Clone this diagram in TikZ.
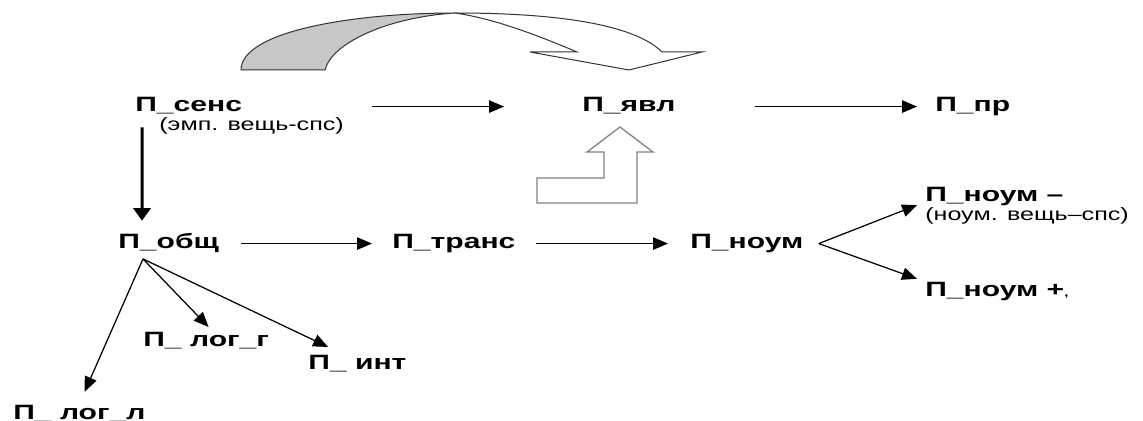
\documentclass[tikz,border=0pt]{standalone}
\usepackage{fontspec}
\setmainfont{Liberation Sans}
\newfontfamily\widefont[FakeStretch=1.45]{Liberation Sans}
\newfontfamily\notefont[FakeStretch=1.4]{Liberation Sans}
\usetikzlibrary{arrows.meta}
\tikzstyle{concept} = [inner sep=0pt, anchor=base west,
text height=8.5pt, text depth=2.9pt,
font=\widefont\bfseries\fontsize{11.8}{14}\selectfont]
\tikzstyle{remark} = [inner sep=0pt, anchor=base west,
font=\notefont\fontsize{10.2}{12}\selectfont]
\tikzstyle{arrow} = [line width=0.25mm, -{Triangle[length=3mm, width=2.5mm]}]
\tikzstyle{boldarrow} = [line width=0.6mm, -{Triangle[length=2.5mm, width=3.4mm]}]
\tikzstyle{blockarrow} = [line width=0.25mm, draw=black!50, fill=white]
\tikzstyle{turnarrow} = [line width=0.2mm, draw=black!80]

\begin{document}
\begin{tikzpicture}[x=0.2mm, y=-0.2mm]
\useasboundingbox (0,0) rectangle (1143,421);

\node (sens) [concept] at (135,111.5) {П\_сенс};
\node (sensnote) [remark] at (159,131) {(эмп. вещь-спс)};
\node (yavl) [concept] at (582,111.5) {П\_явл};
\node (pr) [concept] at (935,111.5) {П\_пр};

\node (obsh) [concept] at (118,248.5) {П\_общ};
\node (trans) [concept] at (392,248.5) {П\_транс};
\node (noum) [concept] at (690,248.5) {П\_ноум};
\node (nminus) [concept] at (925,202) {П\_ноум –};
\node (nminusnote) [remark] at (925,221) {(ноум. вещь–спс)};
\node (nplus) [concept] at (925,297) {П\_ноум +{\fontsize{6}{7}\selectfont,}};

\node (logg) [concept] at (143,347) {П\_ лог\_г};
\node (int) [concept] at (308,370) {П\_ инт};
\node (logl) [concept] at (13,419) {П\_ лог\_л};

\filldraw [turnarrow, fill=black!22] (241,70) .. controls (241,32) and (350,13) .. (455,13)
  .. controls (390,17) and (332,42) .. (325,70) -- cycle;
\filldraw [turnarrow, fill=white] (455,13) .. controls (560,13) and (635,25) .. (662,52)
  -- (702,52) -- (629,70) -- (530,52) -- (577,52) .. controls (530,32) and (490,18) .. (455,13) -- cycle;
\draw [blockarrow] (537,178) -- (604,178) -- (604,152) -- (587,152) -- (620,127)
  -- (653,152) -- (637,152) -- (637,203) -- (537,203) -- cycle;

\draw [arrow, shorten <=26mm, shorten >=15.6mm] (sens.east) -- (yavl.west);
\draw [arrow, shorten <=15.8mm, shorten >=3.6mm] (yavl.east) -- (pr.west);
\draw [boldarrow] ([xshift=1.4mm, yshift=-2.1mm]sens.south west) -- ([xshift=4.8mm, yshift=2.5mm]obsh.north west);

\draw [arrow, shorten <=4.4mm, shorten >=4mm] (obsh.east) -- (trans.west);
\draw [arrow, shorten <=4mm, shorten >=4.4mm] (trans.east) -- (noum.west);
\draw [arrow, shorten >=1.7mm] ([xshift=3mm]noum.east) -- (nminus.base west);
\draw [arrow, shorten >=1.7mm] ([xshift=3mm]noum.east) -- (nplus.north west);

\draw [arrow, shorten >=2.6mm] ([xshift=5mm, yshift=-1mm]obsh.south west) -- (logl.north);
\draw [arrow, shorten >=1.3mm] ([xshift=5mm, yshift=-1mm]obsh.south west) -- ([xshift=1.4mm]logg.north);
\draw [arrow, shorten >=3.6mm] ([xshift=5mm, yshift=-1mm]obsh.south west) -- ([xshift=-2.6mm]int.north);

\end{tikzpicture}
\end{document}
